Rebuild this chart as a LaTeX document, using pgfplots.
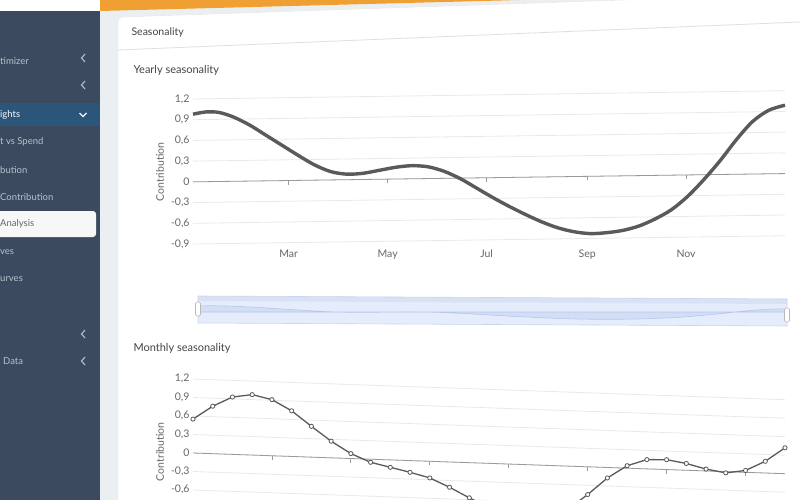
\documentclass[border=0pt]{standalone}
\usepackage{pgfplots}
\pgfplotsset{compat=1.18}
\usepackage{fontspec}
\setmainfont{Lato}
\definecolor{side}{HTML}{3B4A5E}
\definecolor{hl}{HTML}{2B5679}
\definecolor{sidetext}{HTML}{B9C0CA}
\definecolor{bgg}{HTML}{ECEFF2}
\definecolor{orangebar}{HTML}{F0A032}
\definecolor{gridc}{HTML}{E9E9E9}
\definecolor{zeroc}{HTML}{9A9A9A}
\definecolor{labc}{HTML}{666666}
\definecolor{titc}{HTML}{444444}
\definecolor{curvec}{HTML}{5A5A5A}
\definecolor{slbg}{HTML}{E5ECFB}
\definecolor{sltop}{HTML}{D9E2F4}
\definecolor{slfill}{HTML}{D2DEF6}
\definecolor{slline}{HTML}{B7C7E8}
\definecolor{slbord}{HTML}{C9D5EF}

\pgfplotstableread{
x y
0 0.98
8 1.01
16 1.00
25 0.93
35 0.81
45 0.66
55 0.51
65 0.36
75 0.22
85 0.12
95 0.08
105 0.09
115 0.13
125 0.17
135 0.19
145 0.17
155 0.10
165 -0.01
175 -0.15
185 -0.29
195 -0.42
205 -0.54
215 -0.65
225 -0.74
235 -0.80
245 -0.83
255 -0.82
265 -0.79
275 -0.73
285 -0.63
295 -0.50
305 -0.31
315 -0.07
325 0.20
335 0.50
345 0.76
355 0.92
365 0.99
}\yearly

\pgfplotstableread{
x y
1 0.55
2 0.77
3 0.93
4 0.98
5 0.91
6 0.74
7 0.50
8 0.27
9 0.08
10 -0.05
11 -0.12
12 -0.19
13 -0.27
14 -0.41
15 -0.57
16 -0.72
17 -0.85
18 -0.92
19 -0.88
20 -0.70
21 -0.45
22 -0.17
23 0.04
24 0.15
25 0.16
26 0.11
27 0.03
28 -0.02
29 0.03
30 0.19
31 0.42
}\monthly

\pgfplotsset{
  seas/.style={
    axis line style={draw=none},
    tick style={draw=none},
    ymajorgrids,
    grid style={gridc, line width=0.8pt},
    ticklabel style={font=\fontsize{10.5}{12}\selectfont, text=labc},
    yticklabel style={/pgf/number format/.cd, fixed, precision=1, use comma, assume math mode=true},
    ylabel={Contribution},
    ylabel style={font=\fontsize{10.5}{12}\selectfont, text=labc},
    enlargelimits=false,
    clip=false,
  }
}

\begin{document}
\begin{tikzpicture}
\useasboundingbox (0,0) rectangle (800pt,-500pt);
\clip (0,0) rectangle (800pt,-500pt);
\begin{scope}[x=1pt,y=-1pt]
  \fill[bgg] (0,0) rectangle (800,500);
  % panel
  \fill[white] (118,500) -- (118,21) to[out=90,in=180] (122,17) -- (800,-6) -- (800,500) -- cycle;
  \draw[gray!20] (118,500) -- (118,21) to[out=90,in=180] (122,17) -- (800,-6);
  \draw[gray!25, line width=0.8pt] (118,50) -- (800,22);
  \node[anchor=west, font=\fontsize{10.5}{13}\selectfont, text=titc] at (128,33) {Seasonality};
  % orange bar
  \fill[orangebar] (100,0) -- (520,0) -- (100,11) -- cycle;
  % sidebar
  \fill[side] (0,11) rectangle (100,500);
  \fill[white] (0,0) rectangle (100,11);
  \fill[hl] (0,103) rectangle (100,126);
  \fill[gray!6, rounded corners=3pt] (-6,211) rectangle (96,237);
  \begin{scope}[font=\fontsize{9.5}{11}\selectfont, text=sidetext]
    \node[anchor=west, inner sep=0] at (0,61) {timizer};
    \node[anchor=west, inner sep=0, text=white!90!sidetext] at (0,115) {ights};
    \node[anchor=west, inner sep=0] at (0,142) {t vs Spend};
    \node[anchor=west, inner sep=0] at (0,170) {bution};
    \node[anchor=west, inner sep=0] at (0,197) {Contribution};
    \node[anchor=west, inner sep=0, text=labc] at (0,224) {Analysis};
    \node[anchor=west, inner sep=0] at (0,252) {ves};
    \node[anchor=west, inner sep=0] at (0,279) {urves};
    \node[anchor=west, inner sep=0] at (3,361) {Data};
  \end{scope}
  \foreach \yy in {58,85,334,361}{
    \draw[sidetext, line width=1.1pt] (85,\yy-4) -- (81.5,\yy) -- (85,\yy+4);
  }
  \draw[white!85!sidetext, line width=1.1pt] (79.5,113) -- (83,116.5) -- (86.5,113);
  % chart titles
  \node[anchor=west, font=\fontsize{11}{14}\selectfont, text=titc] at (130,70) {Yearly seasonality};
  \node[anchor=west, font=\fontsize{11}{14}\selectfont, text=titc] at (130,348) {Monthly seasonality};
  % slider frame
  \fill[slbg] (198,296) -- (787,299) -- (787,326) -- (198,323) -- cycle;
  \fill[sltop] (198,296) -- (787,299) -- (787,304) -- (198,301) -- cycle;
  \draw[slbord, line width=0.6pt] (198,296) -- (787,299) -- (787,326) -- (198,323) -- cycle;
\end{scope}

% slider data shadow
\begin{axis}[
  hide axis, x={(1.6137pt,-0.0082pt)}, y={(0pt,6.3pt)},
  at={(198pt,-326pt)}, anchor=south west,
  xmin=0, xmax=365, ymin=-1.74, ymax=1.91, enlargelimits=false]
  \addplot[fill=slfill, draw=slline, line width=0.6pt] table[x=x,y=y] {\yearly} \closedcycle;
\end{axis}
\begin{scope}[x=1pt,y=-1pt]
  \draw[gray!55, fill=white, rounded corners=1.5pt, line width=0.6pt] (195.5,302) rectangle (200.5,316);
  \draw[gray!55, fill=white, rounded corners=1.5pt, line width=0.6pt] (784.5,308) rectangle (789.5,322);
\end{scope}

% yearly chart (axes slanted like the reference's perspective)
\begin{axis}[seas,
  x={(1.6219pt,0.0227pt)}, y={(0pt,69.05pt)},
  at={(193pt,-244pt)}, anchor=south west,
  xmin=0, xmax=365, ymin=-0.9, ymax=1.2,
  ytick={-0.9,-0.6,-0.3,0,0.3,0.6,0.9,1.2},
  xtick={59,120,181,243,304},
  xticklabels={},
  ]
  \draw[zeroc, line width=0.8pt] (axis cs:0,0) -- (axis cs:365,0);
  \pgfplotsinvokeforeach{59,120,181,243,304}{
    \draw[zeroc, line width=0.8pt] (axis cs:#1,0) -- ([yshift=-4pt]axis cs:#1,0);
  }
  \addplot[curvec, line width=3.4pt, smooth, no marks] table[x=x,y=y] {\yearly};
  % month labels, kept on one level below the plot
  \begin{scope}[every node/.style={anchor=north, font=\fontsize{10.5}{12}\selectfont, text=labc, inner sep=2pt}]
    \node at ([yshift=-4pt-0.0227pt*59]axis cs:59,-0.9) {Mar};
    \node at ([yshift=-4pt-0.0227pt*120]axis cs:120,-0.9) {May};
    \node at ([yshift=-4pt-0.0227pt*181]axis cs:181,-0.9) {Jul};
    \node at ([yshift=-4pt-0.0227pt*243]axis cs:243,-0.9) {Sep};
    \node at ([yshift=-4pt-0.0227pt*304]axis cs:304,-0.9) {Nov};
  \end{scope}
\end{axis}

% monthly chart
\begin{axis}[seas,
  x={(19.733pt,-0.69pt)}, y={(0pt,61.67pt)},
  at={(193pt,-547.7pt)}, anchor=south west,
  xmin=1, xmax=31, ymin=-1.2, ymax=1.2,
  ytick={-0.6,-0.3,0,0.3,0.6,0.9,1.2},
  extra y ticks={-1.2,-0.9},
  extra y tick labels={},
  xtick={5,9,13,17,21,25,29},
  xticklabels={},
  ]
  \draw[zeroc, line width=0.8pt] (axis cs:1,0) -- (axis cs:31,0);
  \pgfplotsinvokeforeach{5,9,13,17,21,25,29}{
    \draw[zeroc, line width=0.8pt] (axis cs:#1,0) -- ([yshift=-4pt]axis cs:#1,0);
  }
  \addplot[curvec, line width=1.3pt, mark=*, mark size=2.1pt,
    mark options={fill=white, draw=curvec, line width=0.8pt}]
    table[x=x,y=y] {\monthly};
\end{axis}
\end{tikzpicture}
\end{document}
